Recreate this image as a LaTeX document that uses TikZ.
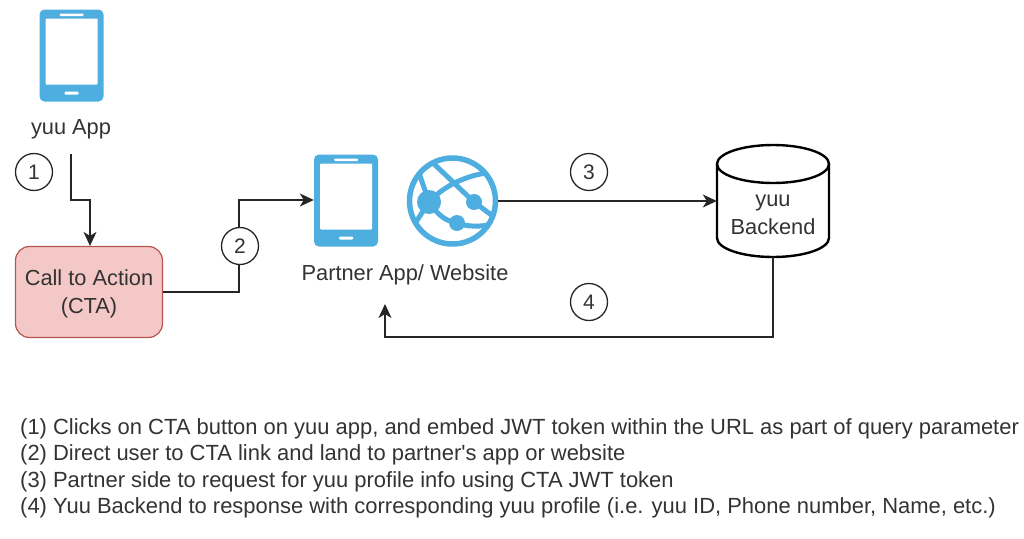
\documentclass[tikz,border=0pt]{standalone}
\usepackage{fontspec}
\setmainfont{Liberation Sans}
\usetikzlibrary{arrows.meta}
\definecolor{azure}{HTML}{4FAEE0}
\definecolor{ink}{HTML}{333333}
\definecolor{ctafill}{HTML}{F3C8C6}
\definecolor{ctaline}{HTML}{B85450}
\tikzset{
 x=1pt,y=-1pt,
 wire/.style={draw=black!85,line width=1.4pt},
 arr/.style={wire,-{Stealth[length=14pt,width=13pt,inset=4pt]}},
 num/.style={circle,draw=black!85,line width=1.3pt,minimum size=37pt,inner sep=0pt,font=\fontsize{21}{21}\selectfont,text=ink,fill=white},
 lab/.style={font=\fontsize{21.8}{28}\selectfont,text=ink,align=center,inner sep=0pt},
 note/.style={font=\fontsize{21.95}{26}\selectfont,text=ink,anchor=west,inner sep=0pt},
 phonebody/.style={minimum width=64pt,minimum height=92pt,inner sep=0pt},
}
\newcommand{\phoneicon}[2]{%
 \fill[azure,rounded corners=5pt] (#1-32,#2-46) rectangle (#1+32,#2+46);
 \fill[white,rounded corners=1pt] (#1-26,#2-37) rectangle (#1+26,#2+29);
 \fill[white,rounded corners=1pt] (#1-12,#2-42) rectangle (#1+12,#2-39.5);
 \fill[white,rounded corners=1pt] (#1-7,#2+36) rectangle (#1+7,#2+39);
}
\begin{document}
\begin{tikzpicture}
\useasboundingbox (0,0) rectangle (1024,538);
\fill[white] (0,0) rectangle (1024,538);
% phones
\phoneicon{71.5}{55.5}
\phoneicon{346}{200.5}
\node[phonebody] (app) at (71.5,55.5) {};
\node[phonebody] (partner) at (346,200.5) {};
\node[lab] (applabel) at (71,129) {yuu App};
\coordinate (appout) at (71,154);
% globe
\begin{scope}
\draw[azure,line width=5.5pt] (452.5,201) circle (43);
\clip (452.5,201) circle (44);
\draw[azure,line width=5pt] (429,202) .. controls (440,190) and (460,176) .. (492,172);
\draw[azure,line width=5pt] (433,163) -- (474,202) -- (498,220);
\draw[azure,line width=5pt] (418,170) -- (429,202) -- (412,228);
\draw[azure,line width=5pt] (429,202) .. controls (438,215) and (445,221) .. (457,223) .. controls (468,227) and (480,227) .. (494,224);
\fill[azure] (429,202) circle (12);
\fill[azure] (474,202) circle (8);
\fill[azure] (457,223) circle (8);
\end{scope}
\node[minimum size=91pt,circle,inner sep=0pt] (web) at (452.5,201) {};
\node[lab] (partnerlabel) at (405,275) {Partner App/ Website};
% box
\node[draw=ctaline,fill=ctafill,line width=1.2pt,rounded corners=14pt,minimum width=147pt,minimum height=91pt,lab] (ctabox) at (89,292) {};
\node[lab] (cta) at (89,294) {Call to Action\\(CTA)};
% cylinder
\draw[black,line width=2.4pt,fill=white] (717,164) -- (717,238) arc[start angle=180,end angle=360,x radius=56,y radius=-19] -- (829,164);
\draw[black,line width=2.4pt] (773,164) ellipse[x radius=56,y radius=19];
\node[minimum width=112pt,minimum height=112pt,inner sep=0pt] (db) at (773,201) {};
\node[lab] (dblabel) at (773,215) {yuu\\Backend};
% connectors
\coordinate (bend1a) at (71,200);
\coordinate (bend1b) at (90,200);
\draw[arr] (appout) -- (bend1a) -- (bend1b) -- (ctabox.north -| bend1b);
\coordinate (bend2) at (239,292);
\coordinate (bend2b) at (239,200);
\draw[arr] (ctabox.east |- bend2) -- (bend2) -- (bend2b) -- (partner.west |- bend2b);
\draw[arr] (web.east) -- (db.west);
\coordinate (b4a) at (773,337);
\coordinate (b4b) at (385,337);
\coordinate (b4c) at (385,304);
\draw[arr] (db.south) -- (b4a) -- (b4b) -- (b4c);
% numbers
\node[num] (n1) at (34,172) {1};
\node[num] (n2) at (240,246) {2};
\node[num] (n3) at (589,172) {3};
\node[num] (n4) at (589,302) {4};
% notes
\node[note] (t1) at (20,429) {(1) Clicks on CTA button on yuu app, and embed JWT token within the URL as part of query parameter};
\node[note] (t2) at (20,455) {(2) Direct user to CTA link and land to partner\textquotesingle s app or website};
\node[note] (t3) at (20,482) {(3) Partner side to request for yuu profile info using CTA JWT token};
\node[note] (t4) at (20,508) {(4) Yuu Backend to response with corresponding yuu profile (i.e. yuu ID, Phone number, Name, etc.)};
\end{tikzpicture}
\end{document}
